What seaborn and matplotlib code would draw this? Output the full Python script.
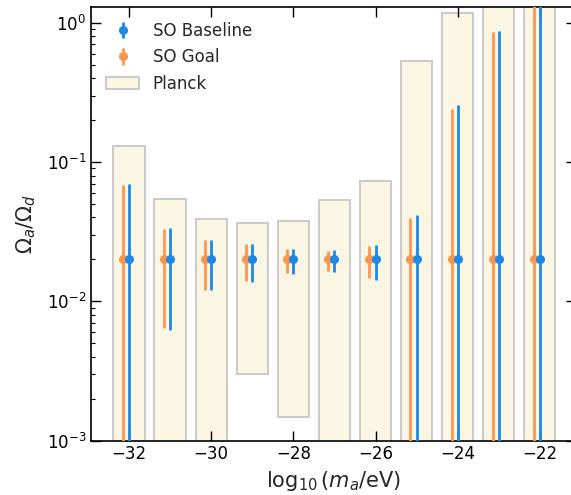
import numpy as np
import matplotlib
matplotlib.use("Agg")
import matplotlib.pyplot as plt
import seaborn as sns

# log10(m_a / eV) grid
log_mass = [-32, -31, -30, -29, -28, -27, -26, -25, -24, -23, -22]

# Planck bounds on Omega_a / Omega_d (bar bottom, bar top)
planck_low = [1e-4, 1e-4, 1e-4, 0.0030, 0.00148, 1e-4, 1e-4, 1e-4, 1e-4, 1e-4, 1e-4]
planck_high = [0.13, 0.054, 0.039, 0.0366, 0.038, 0.053, 0.0735, 0.53, 1.18, 3.0, 3.0]

# fiducial value and SO forecast intervals
fiducial = [0.02] * len(log_mass)
baseline_low = [1e-5, 0.0062, 0.0120, 0.0138, 0.0157, 0.0163, 0.0142, 1e-5, 1e-5, 1e-5, 1e-5]
baseline_high = [0.070, 0.0335, 0.0276, 0.0259, 0.0239, 0.0234, 0.0254, 0.042, 0.256, 0.87, 3.0]
goal_low = [1e-5, 0.0064, 0.0121, 0.0139, 0.0159, 0.0165, 0.0147, 1e-5, 1e-5, 1e-5, 1e-5]
goal_high = [0.068, 0.0331, 0.0276, 0.0258, 0.0236, 0.0230, 0.0248, 0.0397, 0.239, 0.86, 3.0]

sns.set_style("ticks")
plt.rcParams["font.family"] = ["DejaVu Sans"]
plt.rcParams["mathtext.fontset"] = "dejavusans"

blue = "#1e88e5"
orange = "#ff9650"

fig, ax = plt.subplots(figsize=(5.71, 4.95), dpi=100)

x = np.array(log_mass, dtype=float)
low = np.array(planck_low)
high = np.array(planck_high)
ax.bar(x, high - low, bottom=low, width=0.76, color="#fbf5e3",
       edgecolor="#c6c6c6", linewidth=1.3, label="Planck", zorder=1)

fid = np.array(fiducial)
ax.errorbar(x - 0.15, fid,
            yerr=[fid - np.array(goal_low), np.array(goal_high) - fid],
            fmt="o", color=orange, ms=5.5, elinewidth=2, capsize=0,
            label="SO Goal", zorder=3)
ax.errorbar(x, fid,
            yerr=[fid - np.array(baseline_low), np.array(baseline_high) - fid],
            fmt="o", color=blue, ms=5.5, elinewidth=2, capsize=0,
            label="SO Baseline", zorder=4)

ax.set_yscale("log")
ax.set_ylim(1e-3, 1.3)
ax.set_xlim(-32.925, -21.12)
ax.set_xticks([-32, -30, -28, -26, -24, -22])
ax.tick_params(which="both", direction="in", top=True, right=True, labelsize=12,
               colors="black")
ax.tick_params(which="major", length=7, width=1)
ax.tick_params(which="minor", length=3, width=0.8)
for s in ax.spines.values():
    s.set_linewidth(1.2)
    s.set_color("black")
ax.set_axisbelow(False)

ax.set_xlabel(r"$\log_{10}(m_a/\mathrm{eV})$", fontsize=15)
ax.set_ylabel(r"$\Omega_a/\Omega_d$", fontsize=15, labelpad=6)

handles, labels = ax.get_legend_handles_labels()
order = [labels.index("SO Baseline"), labels.index("SO Goal"), labels.index("Planck")]
ax.legend([handles[i] for i in order], [labels[i] for i in order],
          loc="upper left", frameon=False, fontsize=12)

fig.subplots_adjust(left=0.1594, right=1.0088, bottom=0.11, top=0.986)
fig.savefig("out.png", dpi=100)
